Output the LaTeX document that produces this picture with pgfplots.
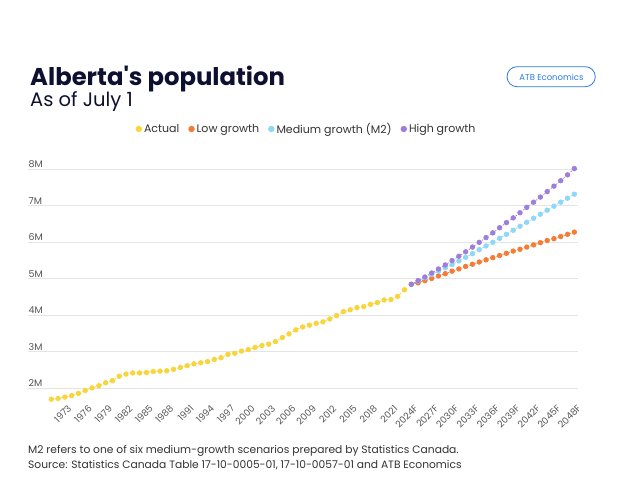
\documentclass[border=0pt]{standalone}
\usepackage{fontspec}
\setmainfont{Poppins}[Ligatures=TeXOff]
\usepackage{pgfplots}
\pgfplotsset{compat=1.18}
\definecolor{actual}{HTML}{F8D53A}
\definecolor{low}{HTML}{F47C34}
\definecolor{med}{HTML}{8FD7F7}
\definecolor{high}{HTML}{9D7EDC}
\definecolor{navy}{HTML}{0D1030}
\definecolor{txt}{HTML}{333333}
\definecolor{tick}{HTML}{555555}
\definecolor{gridc}{HTML}{E4E4E4}
\definecolor{atbblue}{HTML}{2C7BE5}

\begin{document}
\begin{tikzpicture}
\useasboundingbox (0pt,0pt) rectangle (621pt,483pt);
\fill[white] (0pt,0pt) rectangle (621pt,483pt);
\node[anchor=base west, inner sep=0pt, font=\fontsize{24.3}{28}\selectfont\bfseries, text=navy] at (30pt,397pt) {Alberta's population};
\node[anchor=base west, inner sep=0pt, font=\fontsize{19.5}{22}\selectfont, text=navy] at (30pt,376pt) {As of July 1};
\draw[atbblue, rounded corners=10pt, line width=0.8pt] (507pt,396.3pt) rectangle (595.3pt,416.3pt);
\node[atbblue, inner sep=0pt, font=\fontsize{8.5}{10}\selectfont] at (551.5pt,405.7pt) {ATB Economics};
\node[anchor=base west, inner sep=0pt, font=\fontsize{10.7}{12}\selectfont, text=txt] at (28pt,30pt) {M2 refers to one of six medium-growth scenarios prepared by Statistics Canada.};
\node[anchor=base west, inner sep=0pt, font=\fontsize{10.7}{12}\selectfont, text=txt] at (28pt,15pt) {Source: Statistics Canada Table 17-10-0005-01, 17-10-0057-01 and ATB Economics};
\begin{axis}[
  at={(28pt,78.3pt)}, anchor=south west, scale only axis,
  width=550pt, height=239pt,
  xmin=1967.57, xmax=2048.54, ymin=1.55, ymax=8.1,
  axis line style={draw=none},
  major tick length=0pt,
  ytick={2,3,4,5,6,7,8},
  yticklabels={2M,3M,4M,5M,6M,7M,8M},
  yticklabel style={anchor=south west, inner sep=1.5pt, xshift=-1pt, font=\fontsize{9.5}{11}\selectfont, text=tick},
  ymajorgrids, grid style={gridc, line width=0.9pt},
  xtick={1973,1976,...,2048},
  xticklabels={1973,1976,1979,1982,1985,1988,1991,1994,1997,2000,2003,2006,2009,2012,2015,2018,2021,2024F,2027F,2030F,2033F,2036F,2039F,2042F,2045F,2048F},
  xticklabel style={rotate=45, anchor=east, inner sep=1pt, xshift=3pt, yshift=-5pt, font=\fontsize{9.3}{10}\selectfont, text=tick},
  every axis plot/.append style={line width=0.7pt, dash pattern=on 1.6pt off 1.6pt, mark=*, mark size=2.3pt, mark options={solid, draw=none}},
  legend columns=4,
  legend image code/.code={\fill[#1,solid,draw=none] (0pt,0pt) circle (3.2pt);},
  legend style={at={(0.5064,1.1536)}, anchor=center, draw=none, fill=none, font=\fontsize{11}{12}\selectfont, text=txt, /tikz/every even column/.append style={column sep=7pt}, inner sep=0pt},
]
\addplot[color=actual] coordinates {
(1971,1.70)(1972,1.72)(1973,1.76)(1974,1.80)(1975,1.86)(1976,1.94)(1977,2.01)(1978,2.07)(1979,2.15)(1980,2.21)
(1981,2.33)(1982,2.39)(1983,2.42)(1984,2.42)(1985,2.43)(1986,2.46)(1987,2.47)(1988,2.48)(1989,2.52)(1990,2.57)
(1991,2.62)(1992,2.67)(1993,2.70)(1994,2.73)(1995,2.79)(1996,2.84)(1997,2.93)(1998,2.96)(1999,3.02)(2000,3.06)
(2001,3.12)(2002,3.17)(2003,3.21)(2004,3.28)(2005,3.39)(2006,3.49)(2007,3.60)(2008,3.68)(2009,3.73)(2010,3.78)
(2011,3.82)(2012,3.90)(2013,3.99)(2014,4.10)(2015,4.15)(2016,4.21)(2017,4.24)(2018,4.30)(2019,4.35)(2020,4.42)
(2021,4.43)(2022,4.52)(2023,4.70)};
\addlegendentry{Actual}
\addplot[color=low] coordinates {
(2024,4.85)(2025,4.89)(2026,4.95)(2027,5.01)(2028,5.08)(2029,5.14)(2030,5.21)(2031,5.27)(2032,5.34)(2033,5.40)
(2034,5.46)(2035,5.52)(2036,5.58)(2037,5.64)(2038,5.70)(2039,5.76)(2040,5.81)(2041,5.87)(2042,5.93)(2043,5.99)
(2044,6.05)(2045,6.10)(2046,6.16)(2047,6.22)(2048,6.28)};
\addlegendentry{Low growth}
\addplot[color=med] coordinates {
(2024,4.85)(2025,4.94)(2026,5.03)(2027,5.12)(2028,5.21)(2029,5.30)(2030,5.39)(2031,5.49)(2032,5.59)(2033,5.69)
(2034,5.80)(2035,5.90)(2036,6.00)(2037,6.11)(2038,6.22)(2039,6.33)(2040,6.44)(2041,6.55)(2042,6.66)(2043,6.77)
(2044,6.88)(2045,6.99)(2046,7.10)(2047,7.21)(2048,7.32)};
\addlegendentry{Medium growth (M2)}
\addplot[color=high] coordinates {
(2024,4.85)(2025,4.95)(2026,5.05)(2027,5.16)(2028,5.27)(2029,5.38)(2030,5.50)(2031,5.62)(2032,5.74)(2033,5.87)
(2034,6.00)(2035,6.13)(2036,6.26)(2037,6.40)(2038,6.54)(2039,6.67)(2040,6.81)(2041,6.96)(2042,7.10)(2043,7.24)
(2044,7.39)(2045,7.54)(2046,7.69)(2047,7.85)(2048,8.02)};
\addlegendentry{High growth}
\end{axis}
\end{tikzpicture}
\end{document}
